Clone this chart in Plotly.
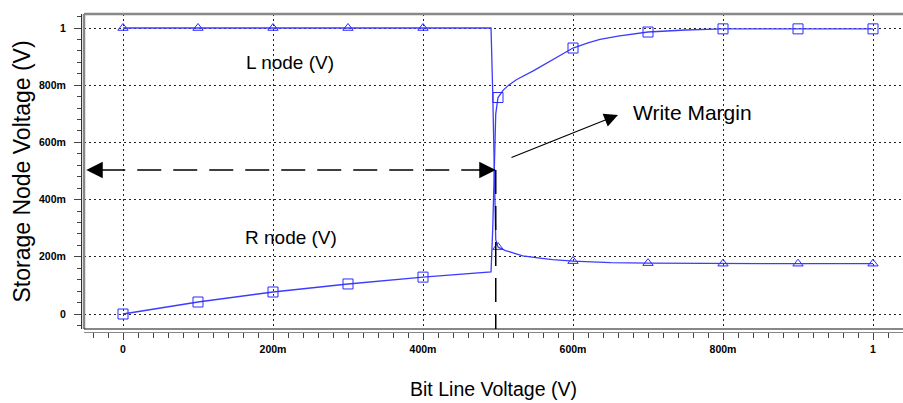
import plotly.graph_objects as go

# ---- data ----
# L node curve (starts high, drops near 0.49 V)
x_L = [0, 0.1, 0.2, 0.3, 0.4, 0.4907, 0.493, 0.4955, 0.497, 0.5, 0.51, 0.52, 0.533, 0.553, 0.573, 0.6, 0.65, 0.7, 0.8, 0.9, 1.0]
y_L = [1.0, 1.0, 1.0, 1.0, 1.0, 1.0, 0.77, 0.50, 0.26, 0.234, 0.222, 0.214, 0.203, 0.196, 0.19, 0.185, 0.18, 0.178, 0.176, 0.176, 0.176]

# R node curve (starts low, rises near 0.49 V)
x_R = [0, 0.1, 0.2, 0.3, 0.4, 0.4907, 0.493, 0.495, 0.497, 0.5, 0.507, 0.515, 0.525, 0.547, 0.573, 0.6, 0.62, 0.636, 0.66, 0.7, 0.75, 0.8, 0.9, 1.0]
y_R = [0.0, 0.042, 0.077, 0.105, 0.129, 0.147, 0.30, 0.50, 0.70, 0.757, 0.783, 0.802, 0.82, 0.85, 0.888, 0.93, 0.948, 0.96, 0.972, 0.986, 0.993, 0.997, 0.997, 0.997]

# marker positions (every 100 mV)
marker_x = [0, 0.1, 0.2, 0.3, 0.4, 0.5, 0.6, 0.7, 0.8, 0.9, 1.0]
marker_L = [1.0, 1.0, 1.0, 1.0, 1.0, 0.234, 0.185, 0.178, 0.176, 0.176, 0.176]
marker_R = [0.0, 0.042, 0.077, 0.105, 0.129, 0.757, 0.93, 0.986, 0.997, 0.997, 0.997]

tick_vals = [0, 0.2, 0.4, 0.6, 0.8, 1.0]
tick_text = ["0", "200m", "400m", "600m", "800m", "1"]

write_margin_v = 0.5035     # level of the write-margin arrow
trip_point = 0.497          # bit line voltage where the nodes flip

LINE = "#3c3cff"
MARK = "#2a2aff"
FONT = "Liberation Sans"

fig = go.Figure()
fig.add_trace(go.Scatter(x=x_L, y=y_L, mode="lines", line=dict(color=LINE, width=1.3),
                         showlegend=False, hoverinfo="skip"))
fig.add_trace(go.Scatter(x=x_R, y=y_R, mode="lines", line=dict(color=LINE, width=1.3),
                         showlegend=False, hoverinfo="skip"))
fig.add_trace(go.Scatter(x=marker_x, y=marker_L, mode="markers",
                         marker=dict(symbol="triangle-up-open", size=9, color=MARK, line=dict(width=1, color=MARK)),
                         showlegend=False))
fig.add_trace(go.Scatter(x=marker_x, y=marker_R, mode="markers",
                         marker=dict(symbol="square-open", size=10, color=MARK, line=dict(width=1, color=MARK)),
                         showlegend=False))

W, H = 903, 403
ml, mt, mb = 81, 14, 71
plot_w = W - ml
plot_h = H - mt - mb

fig.update_layout(
    width=W, height=H,
    margin=dict(l=ml, r=0, t=mt, b=mb, pad=0, autoexpand=False),
    plot_bgcolor="white", paper_bgcolor="white",
    font=dict(family=FONT, color="black"),
    xaxis=dict(
        domain=[3 / plot_w, 1], range=[-0.052, 1.04], anchor="free", position=0,
        automargin=False,
        tickmode="array", tickvals=tick_vals, ticktext=tick_text,
        ticks="outside", ticklen=7, tickcolor="#444", tickwidth=1,
        minor=dict(dtick=0.02, tick0=0, ticks="outside", ticklen=5, tickcolor="#444", showgrid=False),
        showline=True, linecolor="#888", linewidth=1,
        showgrid=True, gridcolor="#222", griddash="2px,3px", gridwidth=1,
        zeroline=False,
        tickfont=dict(family=FONT, size=10.5, weight="bold", color="black"),
        title=dict(text="Bit Line Voltage (V)", font=dict(family=FONT, size=19.5), standoff=28),
    ),
    yaxis=dict(
        domain=[3 / plot_h, 1], range=[-0.0524, 1.049], anchor="free", position=0,
        automargin=False,
        tickmode="array", tickvals=tick_vals, ticktext=tick_text,
        ticks="outside", ticklen=7, tickcolor="#444", tickwidth=1,
        minor=dict(dtick=0.04, tick0=0, ticks="outside", ticklen=4, tickcolor="#444", showgrid=False),
        showline=True, linecolor="#333", linewidth=1,
        showgrid=True, gridcolor="#222", griddash="2px,3px", gridwidth=1,
        zeroline=False,
        ticklabelstandoff=6,
        tickfont=dict(family=FONT, size=10.5, weight="bold", color="black"),
        title=dict(text="Storage Node Voltage (V)", font=dict(family=FONT, size=23), standoff=0),
    ),
)

# frame: gray top/left border, black bottom border
fig.add_shape(type="line", xref="x domain", yref="y domain", x0=0, x1=0, y0=0, y1=1,
              line=dict(color="#888", width=2.5))
fig.add_shape(type="line", xref="x domain", yref="y domain", x0=0, x1=1, y0=1, y1=1,
              line=dict(color="#888", width=2.5))
fig.add_shape(type="line", xref="x domain", yref="y domain", x0=0, x1=1, y0=0, y1=0,
              line=dict(color="#111", width=1.2))

# write margin dashed lines
fig.add_shape(type="line", xref="x", yref="y", x0=-0.049 + 0.02, x1=trip_point - 0.02,
              y0=write_margin_v, y1=write_margin_v,
              line=dict(color="black", width=1.5, dash="24px,12px"))
fig.add_shape(type="line", xref="x", yref="y", x0=trip_point, x1=trip_point,
              y0=write_margin_v, y1=-0.0524,
              line=dict(color="black", width=1.5, dash="24px,12px"))

# arrow heads of the double arrow
fig.add_annotation(x=-0.049, y=write_margin_v, ax=16, ay=0, text="", showarrow=True,
                   arrowhead=2, arrowsize=2.2, arrowwidth=1.5, arrowcolor="black")
fig.add_annotation(x=trip_point, y=write_margin_v, ax=-18, ay=0, text="", showarrow=True,
                   arrowhead=2, arrowsize=2.2, arrowwidth=1.5, arrowcolor="black")

# Write Margin pointer arrow
fig.add_annotation(x=0.66, y=0.696, ax=0.516, ay=0.545, axref="x", ayref="y", text="",
                   showarrow=True, arrowhead=2, arrowsize=2.3, arrowwidth=1.2, arrowcolor="black")

# text labels
fig.add_annotation(x=0.223, y=0.881, text="L node (V)", showarrow=False,
                   font=dict(family=FONT, size=19, color="black"))
fig.add_annotation(x=0.224, y=0.269, text="R node (V)", showarrow=False,
                   font=dict(family=FONT, size=19, color="black"))
fig.add_annotation(x=0.759, y=0.703, text="Write Margin", showarrow=False,
                   font=dict(family=FONT, size=21, color="black"))

fig.write_html("out.html", config={"displayModeBar": False},
               post_script="document.body.style.margin='0';")
